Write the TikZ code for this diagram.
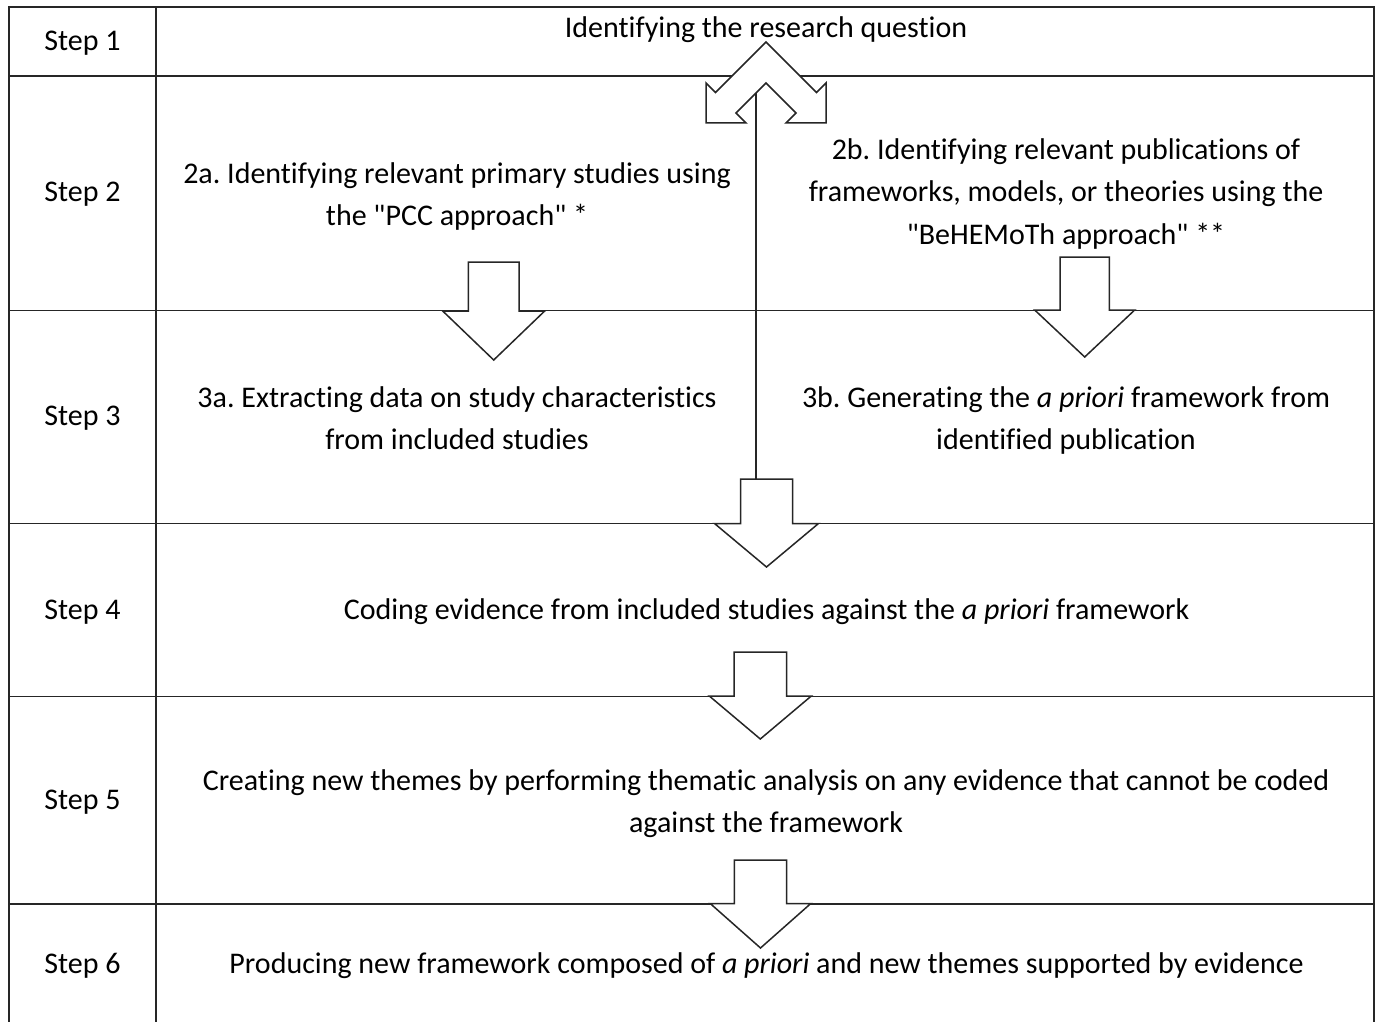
\documentclass[tikz,border=0pt]{standalone}
\usepackage{fontspec}
\setmainfont{Carlito}[Ligatures={TeXOff,NoCommon}]
\frenchspacing
\newcommand\blockdown[7]{%
  \draw[blk] (#2-#6,#3) -- (#2+#6,#3) -- (#2+#6,#4) -- (#2+#7,#4) -- (#2,#5)
    -- (#2-#7,#4) -- (#2-#6,#4) -- cycle;
  \coordinate (#1top) at (#2,#3);}
\begin{document}
\begin{tikzpicture}[x=1pt,y=-1pt,
  grid/.style={line width=1.8pt,color=black!85},
  blk/.style={line width=1.5pt,color=black!85,fill=white,line join=miter},
  lbl/.style={inner sep=0pt,align=center,font=\fontsize{30}{42.5}\selectfont},
  lnk/.style={line width=1.5pt,color=black!85}]
\useasboundingbox (0,0) rectangle (1378,1022);
% table
\draw[grid] (9,1022) -- (9,7) -- (1374,7) -- (1374,1022);
\draw[grid] (156,7) -- (156,1022);
\foreach \yy in {76,310.5,523.5,696.5,904} \draw[grid] (9,\yy) -- (1374,\yy);
% top double chevron arrow
\draw[blk] (766,42) -- (816.5,92.5) -- (826,83) -- (826,123) -- (786,123) -- (796,113)
  -- (766,83) -- (736,113) -- (746,123) -- (706,123) -- (706,83) -- (715.5,92.5) -- cycle;
\coordinate (chevin) at (756,93);
% block arrows
\blockdown{a2a}{493.7}{262}{311}{360}{25.3}{51}
\blockdown{a2b}{1084.7}{257}{310}{357}{24.7}{50}
\blockdown{a34}{766.5}{479}{523.5}{567}{26}{52}
\blockdown{a45}{760.3}{652}{696}{739}{26.3}{51}
\blockdown{a56}{760.5}{860}{903.5}{948}{26.2}{50.3}
\coordinate (s4in) at (756,479);
\draw[lnk] (chevin) -- (s4in);
% step labels
\node[lbl] (s1) at (82.5,42) {\strut Step 1};
\node[lbl] (s2) at (82.5,192.6) {\strut Step 2};
\node[lbl] (s3) at (82.5,416.6) {\strut Step 3};
\node[lbl] (s4) at (82.5,611) {\strut Step 4};
\node[lbl] (s5) at (82.5,800.6) {\strut Step 5};
\node[lbl] (s6) at (82.5,964.6) {\strut Step 6};
% contents
\node[lbl] (t1) at (766,28.6) {\strut Identifying the research question};
\node[lbl] (t2a) at (457,196) {\strut 2a. Identifying relevant primary studies using\\\strut the "PCC approach" *};
\node[lbl] (t2b) at (1066,193) {\strut 2b. Identifying relevant publications of\\\strut frameworks, models, or theories using the\\\strut "BeHEMoTh approach" **};
\node[lbl] (t3a) at (457,420) {\strut 3a. Extracting data on study characteristics\\\strut from included studies};
\node[lbl] (t3b) at (1066,420) {\strut 3b. Generating the \textit{a priori} framework from\\\strut identified publication};
\node[lbl] (t4) at (766.5,611) {\strut Coding evidence from included studies against the \textit{a priori} framework};
\node[lbl] (t5) at (766,803) {\strut Creating new themes by performing thematic analysis on any evidence that cannot be coded\\\strut against the framework};
\node[lbl] (t6) at (766.5,964.6) {\strut Producing new framework composed of \textit{a priori} and new themes supported by evidence};
\end{tikzpicture}
\end{document}
